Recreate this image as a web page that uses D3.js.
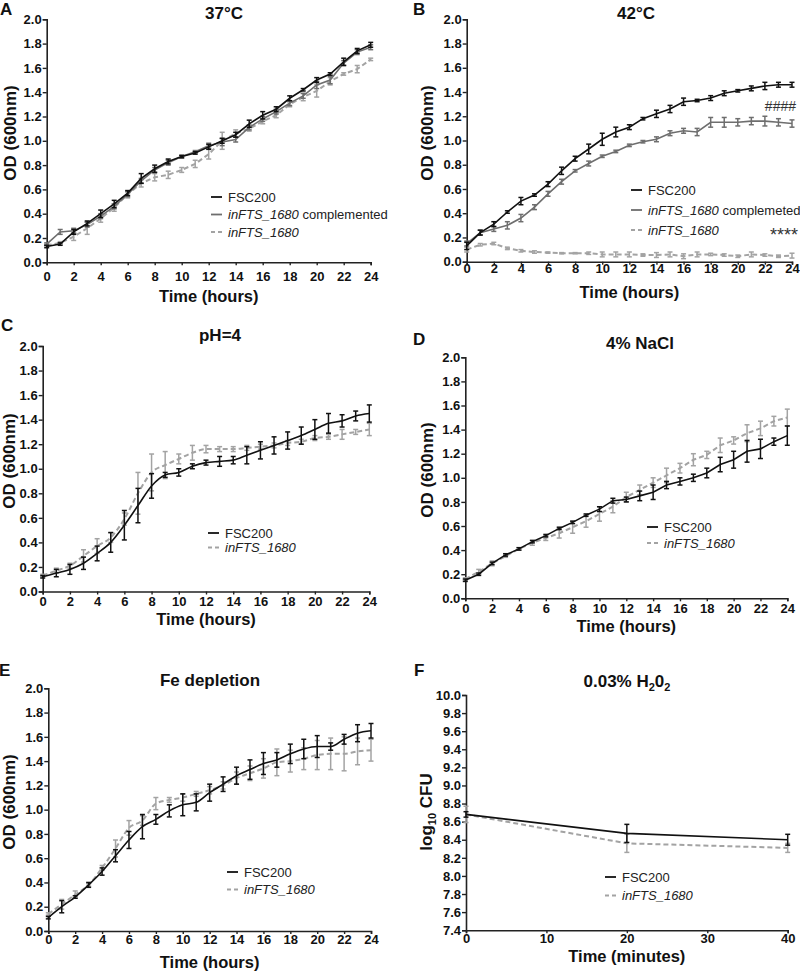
<!DOCTYPE html>
<html><head><meta charset="utf-8">
<script src="https://cdn.jsdelivr.net/npm/d3@7"></script>
<style>body{margin:0;background:#fff} text{font-family:"Liberation Sans",Arial,sans-serif}</style>
</head><body><svg id="c" width="800" height="976"></svg>
<script>
// ---------- DATA ----------
const HOURS = [0,1,2,3,4,5,6,7,8,9,10,11,12,13,14,15,16,17,18,19,20,21,22,23,24];
const MINUTES = [0,20,40];
const OD_TICKS = [0,0.2,0.4,0.6,0.8,1.0,1.2,1.4,1.6,1.8,2.0];
const HOUR_TICKS = [0,2,4,6,8,10,12,14,16,18,20,22,24];
const CFU_TICKS = [7.4,7.6,7.8,8.0,8.2,8.4,8.6,8.8,9.0,9.2,9.4,9.6,9.8,10.0];
const MIN_TICKS = [0,10,20,30,40];

// A 37°C
const A_FSC     = [0.13,0.15,0.25,0.32,0.40,0.48,0.57,0.69,0.77,0.83,0.87,0.90,0.95,1.00,1.05,1.14,1.21,1.26,1.35,1.42,1.50,1.55,1.65,1.74,1.79];
const A_FSC_E   = [0.01,0.01,0.02,0.02,0.03,0.03,0.02,0.04,0.03,0.02,0.01,0.01,0.02,0.02,0.02,0.03,0.03,0.02,0.02,0.01,0.02,0.01,0.03,0.02,0.02];
const A_COMP    = [0.15,0.25,0.26,0.31,0.38,0.46,0.56,0.67,0.76,0.82,0.87,0.91,0.96,0.99,1.01,1.11,1.18,1.24,1.31,1.37,1.46,1.50,1.64,1.73,1.77];
const A_COMP_E  = [0.01,0.02,0.02,0.02,0.02,0.02,0.02,0.02,0.02,0.02,0.01,0.01,0.02,0.03,0.02,0.02,0.02,0.02,0.02,0.02,0.03,0.03,0.02,0.02,0.02];
const A_MUT     = [0.14,0.16,0.21,0.28,0.36,0.45,0.56,0.65,0.70,0.72,0.76,0.81,0.89,1.00,1.06,1.10,1.16,1.21,1.30,1.36,1.41,1.49,1.55,1.59,1.67];
const A_MUT_E   = [0.01,0.01,0.03,0.05,0.03,0.03,0.03,0.03,0.03,0.03,0.02,0.03,0.04,0.07,0.03,0.02,0.02,0.02,0.02,0.03,0.05,0.03,0.01,0.03,0.01];
// B 42°C
const B_FSC     = [0.13,0.24,0.31,0.41,0.50,0.55,0.64,0.75,0.85,0.93,1.01,1.07,1.11,1.18,1.22,1.26,1.32,1.33,1.35,1.39,1.41,1.43,1.45,1.46,1.46];
const B_FSC_E   = [0.03,0.02,0.02,0.01,0.03,0.01,0.02,0.03,0.02,0.04,0.05,0.04,0.02,0.01,0.03,0.03,0.03,0.01,0.02,0.02,0.01,0.02,0.03,0.02,0.02];
const B_COMP    = [0.15,0.24,0.27,0.30,0.36,0.45,0.56,0.66,0.75,0.81,0.87,0.91,0.96,0.99,1.01,1.06,1.08,1.07,1.15,1.15,1.15,1.16,1.16,1.15,1.14];
const B_COMP_E  = [0.02,0.02,0.02,0.03,0.03,0.02,0.02,0.02,0.01,0.02,0.01,0.01,0.01,0.01,0.02,0.02,0.02,0.03,0.04,0.04,0.03,0.03,0.04,0.03,0.03];
const B_MUT     = [0.10,0.14,0.15,0.11,0.09,0.08,0.075,0.07,0.07,0.07,0.06,0.06,0.06,0.055,0.055,0.06,0.045,0.06,0.06,0.055,0.045,0.06,0.055,0.045,0.05];
const B_MUT_E   = [0.02,0.01,0.01,0.01,0.01,0.01,0.005,0.005,0.005,0.01,0.02,0.02,0.02,0.01,0.02,0.02,0.02,0.02,0.01,0.01,0.01,0.02,0.01,0.01,0.02];
// C pH=4
const C_FSC     = [0.12,0.15,0.18,0.23,0.31,0.40,0.54,0.70,0.86,0.95,0.97,1.02,1.05,1.06,1.07,1.11,1.15,1.19,1.23,1.27,1.32,1.37,1.39,1.43,1.45];
const C_FSC_E   = [0.01,0.03,0.04,0.05,0.06,0.08,0.12,0.14,0.10,0.02,0.03,0.02,0.02,0.04,0.03,0.07,0.07,0.07,0.07,0.07,0.08,0.08,0.05,0.04,0.07];
const C_MUT     = [0.13,0.17,0.21,0.29,0.37,0.44,0.59,0.80,0.97,1.03,1.08,1.13,1.16,1.16,1.16,1.17,1.18,1.19,1.21,1.22,1.25,1.26,1.28,1.30,1.32];
const C_MUT_E   = [0.01,0.02,0.02,0.05,0.06,0.04,0.05,0.17,0.15,0.11,0.04,0.06,0.03,0.02,0.02,0.02,0.02,0.02,0.02,0.02,0.02,0.02,0.04,0.02,0.05];
// D 4% NaCl
const D_FSC     = [0.15,0.20,0.29,0.36,0.41,0.47,0.52,0.58,0.63,0.69,0.74,0.81,0.82,0.85,0.88,0.94,0.97,1.00,1.04,1.11,1.15,1.22,1.24,1.30,1.35];
const D_FSC_E   = [0.01,0.01,0.01,0.01,0.01,0.01,0.01,0.01,0.01,0.01,0.02,0.02,0.02,0.04,0.06,0.03,0.03,0.03,0.04,0.06,0.07,0.09,0.08,0.03,0.08];
const D_MUT     = [0.16,0.22,0.29,0.35,0.41,0.46,0.50,0.54,0.59,0.64,0.70,0.76,0.84,0.90,0.96,1.02,1.08,1.15,1.19,1.27,1.31,1.37,1.41,1.47,1.50];
const D_MUT_E   = [0.01,0.02,0.02,0.01,0.01,0.02,0.02,0.04,0.05,0.05,0.06,0.05,0.04,0.04,0.04,0.06,0.04,0.05,0.03,0.06,0.03,0.07,0.06,0.04,0.07];
// E Fe depletion
const E_FSC     = [0.11,0.20,0.28,0.38,0.49,0.62,0.75,0.86,0.92,0.99,1.04,1.06,1.14,1.21,1.28,1.33,1.38,1.41,1.46,1.50,1.52,1.52,1.58,1.63,1.65];
const E_FSC_E   = [0.01,0.05,0.01,0.02,0.03,0.05,0.07,0.10,0.04,0.05,0.09,0.07,0.07,0.06,0.07,0.08,0.09,0.06,0.08,0.08,0.09,0.03,0.04,0.07,0.06];
const E_MUT     = [0.14,0.22,0.30,0.38,0.52,0.68,0.85,0.91,1.05,1.08,1.10,1.13,1.16,1.20,1.26,1.30,1.34,1.39,1.40,1.42,1.45,1.46,1.46,1.48,1.49];
const E_MUT_E   = [0.01,0.04,0.03,0.01,0.02,0.07,0.06,0.04,0.05,0.02,0.03,0.02,0.03,0.03,0.05,0.06,0.08,0.11,0.09,0.09,0.12,0.13,0.14,0.11,0.09];
// F 0.03% H2O2
const F_FSC     = [8.68,8.47,8.40];
const F_FSC_E   = [0.03,0.10,0.06];
const F_MUT     = [8.68,8.36,8.31];
const F_MUT_E   = [0.09,0.10,0.05];

// ---------- STYLE ----------
const COL_FSC = "#111111", COL_COMP = "#6e6e6e", COL_MUT = "#a3a3a3";
const svg = d3.select("#c");

function panel(cfg){
  const g = svg.append("g");
  const x = d3.scaleLinear().domain(cfg.xd).range([cfg.l, cfg.r]);
  const y = d3.scaleLinear().domain(cfg.yd).range([cfg.b, cfg.t]);
  const ya = d3.axisLeft(y).tickValues(cfg.yt).tickSize(4).tickPadding(1).tickFormat(d3.format(".1f"));
  const xa = d3.axisBottom(x).tickValues(cfg.xt).tickSize(3).tickPadding(0).tickFormat(d3.format("d"));
  const gy = g.append("g").attr("transform",`translate(${cfg.l},0)`).call(ya);
  const gx = g.append("g").attr("transform",`translate(0,${cfg.b})`).call(xa);
  gx.selectAll(".tick text").attr("y",cfg.xly).attr("dy","0.71em");
  [gx,gy].forEach(a=>{
    a.selectAll("path").attr("stroke","#222").attr("stroke-width",1.6);
    a.selectAll("line").attr("stroke","#222").attr("stroke-width",1.4);
    a.selectAll("text").attr("fill","#111").style("font-size","13px").style("font-weight","bold");
  });
  cfg.series.forEach(s=>{
    const pts = cfg.xs.map((xv,i)=>({x:xv,y:s.v[i],e:s.e[i]}));
    const line = d3.line().x(d=>x(d.x)).y(d=>y(d.y)).curve(cfg.curve||d3.curveLinear);
    g.append("path").datum(pts).attr("d",line).attr("fill","none")
      .attr("stroke",s.c).attr("stroke-width",s.w||1.6)
      .attr("stroke-dasharray",s.dash||null);
    const eb = g.append("g").attr("stroke",s.c).attr("stroke-width",1.5);
    pts.forEach(d=>{
      if(!d.e) return;
      const cx = x(d.x), y1 = y(d.y+d.e), y2 = y(d.y-d.e);
      eb.append("line").attr("x1",cx).attr("x2",cx).attr("y1",y1).attr("y2",y2);
      eb.append("line").attr("x1",cx-2.5).attr("x2",cx+2.5).attr("y1",y1).attr("y2",y1);
      eb.append("line").attr("x1",cx-2.5).attr("x2",cx+2.5).attr("y1",y2).attr("y2",y2);
    });
  });
  cfg.legend.forEach((L,i)=>{
    const yy = cfg.lg.y + i*cfg.lg.dy;
    g.append("line").attr("x1",cfg.lg.x).attr("x2",cfg.lg.x+11).attr("y1",yy).attr("y2",yy)
      .attr("stroke",L.c).attr("stroke-width",L.w||1.8).attr("stroke-dasharray",L.dash?"4,3":null);
    const t = g.append("text").attr("x",cfg.lg.x+17).attr("y",yy+4.5).style("font-size","13px").attr("fill","#222");
    L.parts.forEach(p=>t.append("tspan").text(p[0]).style("font-style",p[1]?"italic":"normal"));
  });
  const tt = g.append("text").attr("x",cfg.tx).attr("y",cfg.ty).attr("text-anchor","middle")
    .style("font-size","17px").style("font-weight","bold").attr("fill","#111");
  cfg.title.forEach(p=>{
    const ts = tt.append("tspan").text(p[0]);
    if(p[1]) ts.style("font-size","11px").attr("dy",4); else if(p[2]) ts.attr("dy",-4);
  });
  g.append("text").attr("x",cfg.lx).attr("y",cfg.ly).text(cfg.letter)
    .style("font-size","17px").style("font-weight","bold").attr("fill","#111");
  g.append("text").attr("x",(cfg.l+cfg.r)/2).attr("y",cfg.xty).attr("text-anchor","middle")
    .style("font-size","16.5px").style("font-weight","bold").attr("fill","#111").text(cfg.xtitle);
  const yt = g.append("text").attr("transform",`translate(${cfg.ytx},${cfg.yty}) rotate(-90)`)
    .attr("text-anchor","middle").style("font-size","17px").style("font-weight","bold").attr("fill","#111");
  cfg.ytitle.forEach(p=>{
    const ts = yt.append("tspan").text(p[0]);
    if(p[1]) ts.style("font-size","11px").attr("dy",4); else if(p[2]) ts.attr("dy",-4);
  });
  return {g,x,y};
}

const mutStyle = {c:COL_MUT, w:2, dash:"5,3"};
const legFSC = {c:COL_FSC, parts:[["FSC200",false]]};
const legMUT = {c:COL_MUT, dash:true, parts:[["inFTS_1680",true]]};
const odTitle = [["OD (600nm)"]];

const A = panel({l:46.7,r:370.7,t:19.3,b:262.3,xd:[0,24],yd:[0,2],xt:HOUR_TICKS,yt:OD_TICKS,xs:HOURS,xly:9,
  series:[Object.assign({v:A_MUT,e:A_MUT_E},mutStyle),{v:A_COMP,e:A_COMP_E,c:COL_COMP},{v:A_FSC,e:A_FSC_E,c:COL_FSC}],
  legend:[legFSC,{c:COL_COMP,parts:[["inFTS_1680",true],[" complemented",false]]},legMUT],
  lg:{x:211,y:197,dy:17.5},
  title:[["37°C"]],tx:224,ty:19,letter:"A",lx:0,ly:15,xtitle:"Time (hours)",xty:302,
  ytitle:odTitle,ytx:16,yty:133});

const B = panel({l:466.7,r:792,t:19.3,b:261.7,xd:[0,24],yd:[0,2],xt:HOUR_TICKS,yt:OD_TICKS,xs:HOURS,xly:2,
  series:[Object.assign({v:B_MUT,e:B_MUT_E},mutStyle),{v:B_COMP,e:B_COMP_E,c:COL_COMP},{v:B_FSC,e:B_FSC_E,c:COL_FSC}],
  legend:[legFSC,{c:COL_COMP,parts:[["inFTS_1680",true],[" complemeted",false]]},legMUT],
  lg:{x:631,y:190,dy:20},
  title:[["42°C"]],tx:636,ty:19,letter:"B",lx:413,ly:15,xtitle:"Time (hours)",xty:298,
  ytitle:odTitle,ytx:433,yty:133});
B.g.append("text").attr("x",796).attr("y",111).attr("text-anchor","end").style("font-size","14px").attr("fill","#333").text("####");
B.g.append("text").attr("x",770).attr("y",241).style("font-size","18px").attr("fill","#333").text("****");

const C = panel({l:42.7,r:369.3,t:346,b:591.5,xd:[0,24],yd:[0,2],xt:HOUR_TICKS,yt:OD_TICKS,xs:HOURS,xly:5,curve:d3.curveMonotoneX,
  series:[Object.assign({v:C_MUT,e:C_MUT_E},mutStyle),{v:C_FSC,e:C_FSC_E,c:COL_FSC}],
  legend:[legFSC,legMUT], lg:{x:208,y:533,dy:14.5},
  title:[["pH=4"]],tx:220,ty:341,letter:"C",lx:1,ly:331,xtitle:"Time (hours)",xty:625,
  ytitle:odTitle,ytx:15,yty:461});

const D = panel({l:465.3,r:787.3,t:357.3,b:598.3,xd:[0,24],yd:[0,2],xt:HOUR_TICKS,yt:OD_TICKS,xs:HOURS,xly:5,
  series:[Object.assign({v:D_MUT,e:D_MUT_E},mutStyle),{v:D_FSC,e:D_FSC_E,c:COL_FSC}],
  legend:[legFSC,legMUT], lg:{x:647,y:527,dy:16},
  title:[["4% NaCl"]],tx:640,ty:349,letter:"D",lx:413,ly:345,xtitle:"Time (hours)",xty:632,
  ytitle:odTitle,ytx:433,yty:470});

const E = panel({l:48.3,r:371,t:688.3,b:931,xd:[0,24],yd:[0,2],xt:HOUR_TICKS,yt:OD_TICKS,xs:HOURS,xly:4,curve:d3.curveMonotoneX,
  series:[Object.assign({v:E_MUT,e:E_MUT_E},mutStyle),{v:E_FSC,e:E_FSC_E,c:COL_FSC}],
  legend:[legFSC,legMUT], lg:{x:227,y:872,dy:17.5},
  title:[["Fe depletion"]],tx:210,ty:686,letter:"E",lx:-1,ly:676,xtitle:"Time (hours)",xty:968,
  ytitle:odTitle,ytx:15,yty:802});

const F = panel({l:466,r:787.7,t:695,b:930.2,xd:[0,40],yd:[7.4,10],xt:MIN_TICKS,yt:CFU_TICKS,xs:MINUTES,xly:4,
  series:[Object.assign({v:F_MUT,e:F_MUT_E},mutStyle),{v:F_FSC,e:F_FSC_E,c:COL_FSC}],
  legend:[legFSC,legMUT], lg:{x:605,y:877,dy:18.5},
  title:[["0.03% H"],["2",true],["0",false,true],["2",true]],tx:627,ty:687,letter:"F",lx:414,ly:676,xtitle:"Time (minutes)",xty:962,
  ytitle:[["log"],["10",true],[" CFU",false,true]],ytx:432,yty:812});
</script></body></html>
